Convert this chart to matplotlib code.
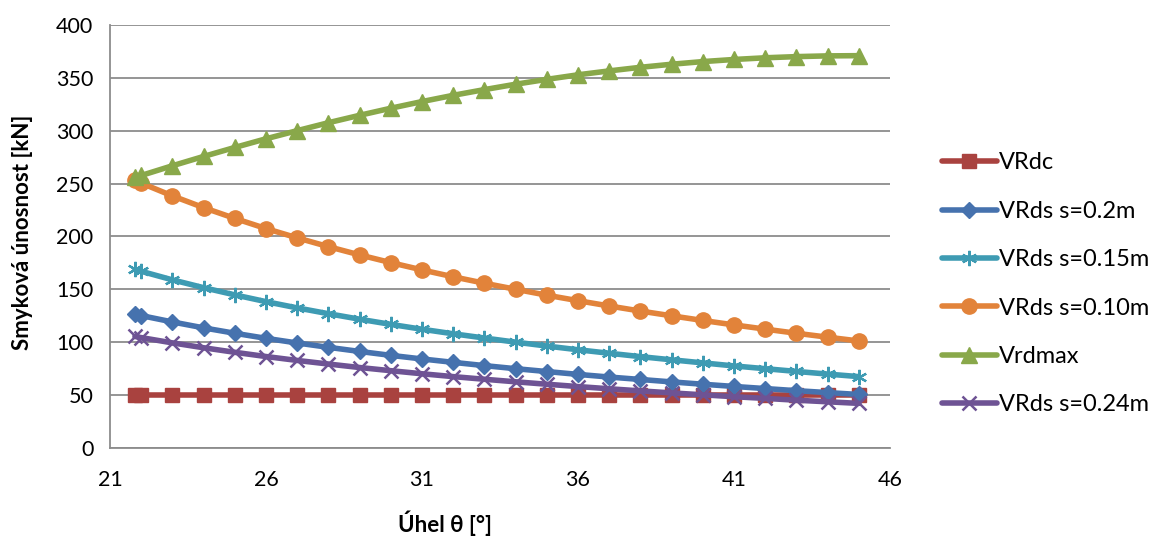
import matplotlib
matplotlib.use("Agg")
import matplotlib.pyplot as plt

theta = [21.8, 22, 23, 24, 25, 26, 27, 28, 29, 30, 31, 32, 33, 34, 35, 36,
         37, 38, 39, 40, 41, 42, 43, 44, 45]

vrdc = [50.0] * 25
vrds_020 = [126.5, 125.2, 119.2, 113.6, 108.5, 103.7, 99.3, 95.2, 91.3, 87.6,
            84.2, 81.0, 77.9, 75.0, 72.3, 69.6, 67.1, 64.8, 62.5, 60.3, 58.2,
            56.2, 54.2, 52.4, 50.6]
vrds_015 = [168.8, 167.1, 159.0, 151.6, 144.8, 138.4, 132.5, 127.0, 121.8,
            116.9, 112.3, 108.0, 104.0, 100.1, 96.4, 92.9, 89.6, 86.4, 83.4,
            80.5, 77.6, 75.0, 72.4, 69.9, 67.5]
vrds_010 = [253.0, 250.5, 238.4, 227.3, 217.1, 207.5, 198.7, 190.4, 182.6,
            175.3, 168.4, 161.9, 155.8, 150.1, 144.5, 139.3, 134.3, 129.5,
            125.0, 120.6, 116.4, 112.4, 108.5, 104.8, 101.2]
vrdmax = [255.9, 257.7, 266.9, 275.7, 284.2, 292.4, 300.1, 307.6, 314.6, 321.3,
          327.6, 333.5, 338.9, 344.0, 348.6, 352.9, 356.6, 360.0, 362.9, 365.4,
          367.4, 369.0, 370.1, 370.8, 371.0]
vrds_024 = [105.5, 104.4, 99.4, 94.8, 90.5, 86.5, 82.8, 79.4, 76.1, 73.1, 70.2,
            67.5, 65.0, 62.6, 60.3, 58.1, 56.0, 54.0, 52.1, 50.3, 48.5, 46.9,
            45.2, 43.7, 42.2]

labels = ["VRdc", "VRds s=0.2m", "VRds s=0.15m", "VRds s=0.10m", "Vrdmax",
          "VRds s=0.24m"]
xticks = [21, 26, 31, 36, 41, 46]
yticks = [0, 50, 100, 150, 200, 250, 300, 350, 400]

plt.rcParams['font.family'] = ['Lato', 'DejaVu Sans']

W, H = 1154, 536
fig = plt.figure(figsize=(W / 100, H / 100), dpi=100)
ax = fig.add_axes([110 / W, 1 - 448 / H, 780 / W, 423 / H])

series = [
    (vrdc, "#A9423F", "s", 10, {}),
    (vrds_020, "#4672AE", "D", 8, {}),
    (vrds_015, "#3E9BB3", (6, 2, 0), 11, {"markeredgewidth": 1.6}),
    (vrds_010, "#E2833A", "o", 11, {}),
    (vrdmax, "#89A84A", "^", 11, {}),
    (vrds_024, "#6E5394", "x", 10, {"markeredgewidth": 1.8}),
]
for (vals, col, mk, ms, extra), lab in zip(series, labels):
    ax.plot(theta, vals, color=col, lw=4, marker=mk, markersize=ms,
            markerfacecolor=col, markeredgecolor=col, label=lab,
            solid_capstyle='round', **extra)

ax.set_xlim(21, 46)
ax.set_ylim(0, 400)
ax.set_xticks(xticks)
ax.set_yticks(yticks)
ax.tick_params(axis='y', labelsize=15.5, length=0, pad=12, colors='black')
ax.tick_params(axis='x', labelsize=15.5, length=0, pad=16, colors='black')
ax.grid(axis='y', color='#8C8C8C', lw=1.3)
ax.set_axisbelow(True)
for s in ['top', 'right']:
    ax.spines[s].set_visible(False)
for s in ['left', 'bottom']:
    ax.spines[s].set_color('#8C8C8C')
    ax.spines[s].set_linewidth(1.3)

fig.text(23 / W, 1 - 232 / H, "Smyková únosnost [kN]", fontsize=16,
         fontweight='bold', rotation=90, ha='center', va='center')
fig.text(445 / W, 1 - 523 / H, "Úhel θ [°]", fontsize=16,
         fontweight='bold', ha='center', va='center')

leg = ax.legend(loc='center left', bbox_to_anchor=(1.067, 0.388), frameon=False,
                fontsize=17, handlelength=2.3, handletextpad=0.12,
                labelspacing=1.16, borderaxespad=0, borderpad=0)

fig.savefig("out.png", dpi=100)
